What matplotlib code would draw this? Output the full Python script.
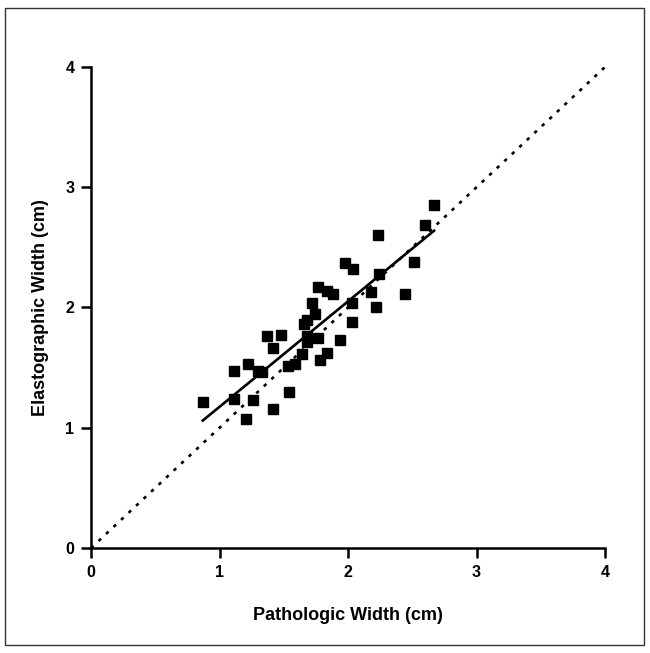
import numpy as np
import matplotlib
matplotlib.use("Agg")
import matplotlib.pyplot as plt
from matplotlib.patches import Rectangle

plt.rcParams['font.family'] = ['Liberation Sans', 'DejaVu Sans']
plt.rcParams['font.weight'] = 'bold'

# pathologic vs elastographic width (cm)
patho = [0.87, 1.11, 1.11, 1.22, 1.21, 1.26, 1.30, 1.33, 1.37, 1.48, 1.42,
         1.42, 1.53, 1.59, 1.54, 1.64, 1.66, 1.68, 1.68, 1.68, 1.77, 1.78,
         1.84, 1.94, 1.72, 1.74, 1.77, 1.84, 1.88, 1.98, 2.04, 2.03, 2.03,
         2.18, 2.22, 2.23, 2.24, 2.44, 2.51, 2.60, 2.67]
elasto = [1.21, 1.47, 1.24, 1.53, 1.07, 1.23, 1.47, 1.46, 1.76, 1.77, 1.66,
          1.16, 1.51, 1.53, 1.30, 1.61, 1.86, 1.90, 1.76, 1.71, 1.75, 1.56,
          1.62, 1.73, 2.04, 1.95, 2.17, 2.14, 2.11, 2.37, 2.32, 2.04, 1.88,
          2.13, 2.00, 2.60, 2.28, 2.11, 2.38, 2.69, 2.85]
identity = [0, 4]
ticks = [0, 1, 2, 3, 4]

fig = plt.figure(figsize=(6.5, 6.53), dpi=100)
ax = fig.add_axes([0.14, 0.1608, 0.7908, 0.7366])

# line of identity
ax.plot(identity, identity, color='black', lw=1.9, linestyle=(0, (1.3, 2.6)))

# linear fit over the data range
slope, icpt = np.polyfit(patho, elasto, 1)
xs = np.array([min(patho), max(patho)])
ax.plot(xs, slope * xs + icpt, color='black', lw=1.9)

ax.plot(patho, elasto, 's', color='black', markersize=7.5, zorder=3)

ax.set_xlim(0, 4)
ax.set_ylim(0, 4)
ax.set_xticks(ticks)
ax.set_yticks(ticks)
ax.tick_params(direction='out', length=7, width=1.8, labelsize=11.5, pad=5)
for s in ['top', 'right']:
    ax.spines[s].set_visible(False)
for s in ['left', 'bottom']:
    ax.spines[s].set_linewidth(1.8)

ax.set_xlabel('Pathologic Width (cm)', fontsize=13, fontweight='bold', labelpad=20)
ax.set_ylabel('Elastographic Width (cm)', fontsize=13, fontweight='bold', labelpad=12)

# frame round the whole figure
fig.patches.append(Rectangle((5 / 650, 1 - 645 / 653), 639 / 650, 637 / 653,
                             transform=fig.transFigure, fill=False,
                             edgecolor='#333333', lw=1))

fig.savefig('out.png', dpi=100)
